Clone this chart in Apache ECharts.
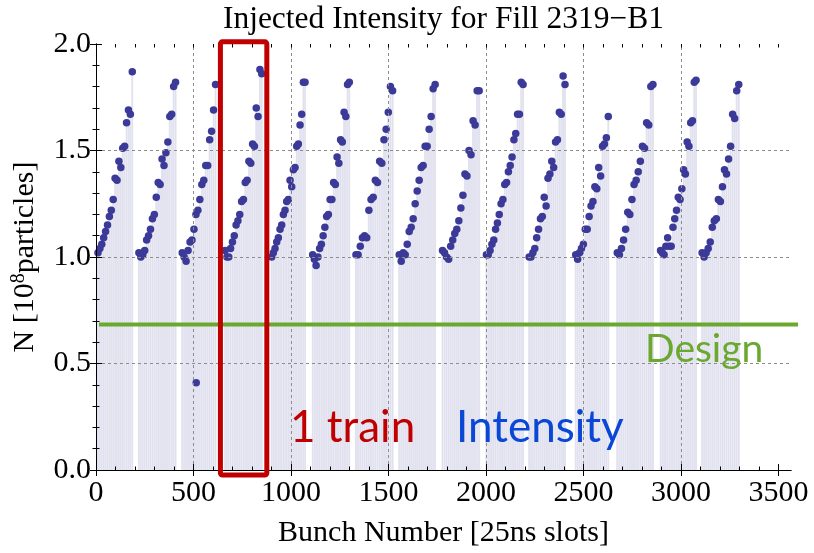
<!DOCTYPE html>
<html><head><meta charset="utf-8">
<script src="https://cdn.jsdelivr.net/npm/echarts@6/dist/echarts.min.js"></script>
<style>html,body{margin:0;padding:0;background:#fff}#c{width:814px;height:553px}</style>
</head><body><div id="c"></div>
<script>
const titleText = 'Injected Intensity for Fill 2319\u2212B1';
const xAxisTitle = 'Bunch Number [25ns slots]';
const xTicks = [0, 500, 1000, 1500, 2000, 2500, 3000, 3500];
const gridX = [500, 1000, 1500, 2000, 2500, 3000];
const gridY = [0.5, 1.0, 1.5];
const xMax = 3564;
const trainStart = [10, 220, 442, 662, 901, 1111, 1333, 1555, 1777, 2002, 2221, 2460, 2673, 2895, 3108];
const trainEnd = [186, 408, 613, 850, 1072, 1299, 1521, 1739, 1965, 2190, 2405, 2627, 2856, 3077, 3296];
const train1 = [1.02,1.04,1.06,1.09,1.12,1.15,1.19,1.22,1.27,1.37,1.36,1.45,1.42,1.51,1.52,1.63,1.69,1.67,1.87];
const train2 = [1.02,1.00,1.01,1.03,1.08,1.10,1.13,1.18,1.20,1.28,1.35,1.34,1.46,1.43,1.49,1.54,1.66,1.67,1.80,1.82];
const train3 = [1.02,1.00,0.98,1.03,1.07,1.08,1.13,1.20,1.22,1.27,1.34,1.36,1.43,1.43,1.55,1.59,1.69,1.81];
const train4 = [1.03,1.00,1.00,1.04,1.07,1.10,1.15,1.17,1.20,1.26,1.27,1.35,1.36,1.45,1.44,1.53,1.52,1.70,1.66,1.88,1.86];
const train5 = [1.00,1.02,1.04,1.07,1.09,1.13,1.15,1.20,1.22,1.26,1.27,1.36,1.33,1.41,1.42,1.52,1.53,1.62,1.67,1.82,1.82];
const train6 = [1.01,0.99,0.96,1.00,1.04,1.06,1.10,1.14,1.19,1.20,1.27,1.27,1.35,1.34,1.47,1.44,1.55,1.54,1.68,1.66,1.81,1.82];
const train7 = [1.01,1.01,1.05,1.09,1.10,1.09,1.22,1.27,1.28,1.36,1.35,1.45,1.44,1.55,1.60,1.68,1.80,1.78];
const train8 = [1.01,0.98,1.02,1.01,1.06,1.12,1.14,1.18,1.25,1.31,1.36,1.42,1.43,1.52,1.52,1.60,1.66,1.79,1.81];
const train9 = [1.03,1.02,1.00,0.99,1.05,1.08,1.11,1.13,1.17,1.23,1.29,1.39,1.38,1.50,1.48,1.64,1.62,1.78,1.78];
const train10 = [1.01,1.01,1.03,1.06,1.08,1.13,1.16,1.20,1.25,1.27,1.34,1.35,1.40,1.43,1.47,1.55,1.58,1.67,1.67,1.82,1.81];
const train11 = [1.00,1.00,1.02,1.04,1.09,1.13,1.18,1.19,1.28,1.24,1.37,1.39,1.45,1.42,1.54,1.55,1.68,1.67,1.85,1.81];
const train12 = [1.01,0.99,1.02,1.04,1.06,1.13,1.13,1.19,1.24,1.26,1.33,1.32,1.42,1.38,1.52,1.53,1.56,1.66];
const train13 = [1.02,1.01,1.04,1.08,1.13,1.21,1.20,1.27,1.34,1.36,1.40,1.45,1.52,1.51,1.63,1.62,1.80,1.81];
const train14 = [1.03,1.02,1.01,1.05,1.09,1.05,1.05,1.14,1.18,1.22,1.28,1.27,1.32,1.41,1.39,1.54,1.52,1.63,1.64,1.82,1.83];
const train15 = [1.02,1.00,1.02,1.04,1.07,1.14,1.17,1.18,1.27,1.26,1.33,1.41,1.39,1.46,1.52,1.67,1.65,1.78,1.81];
const outlierSlot = 514;
const outlierValue = 0.41;
const designValue = 0.683;
const boxSlots = [638, 876];
const boxValues = [2.01, -0.024];

const trains = [train1,train2,train3,train4,train5,train6,train7,train8,train9,train10,train11,train12,train13,train14,train15];
const dots = [];
const stems = [];
trains.forEach((vals, t) => {
  const s = trainStart[t], e = trainEnd[t], n = vals.length;
  const step = (e - s) / (n - 1);
  vals.forEach((v, j) => {
    const x = s + step * j;
    dots.push([x, v]);
    stems.push([x, v, step]);
  });
});
dots.push([outlierSlot, outlierValue]);

const minorX = [];
for (let v = 0; v <= 3500; v += 100) minorX.push(v);

const serif = 'Liberation Serif';
const chart = echarts.init(document.getElementById('c'), null, {renderer: 'canvas'});
const axisLineStyle = {color: '#000', width: 1};
const hiddenLabel = {show: false};
chart.setOption({
  animation: false,
  backgroundColor: '#fff',
  grid: {left: 96, right: 23, top: 44, bottom: 80, containLabel: false},
  xAxis: [
    {type: 'value', position: 'bottom', min: 0, max: xMax, z: 10,
     axisLine: {show: true, lineStyle: axisLineStyle},
     axisTick: {show: true, inside: true, length: 6, customValues: xTicks, lineStyle: axisLineStyle},
     axisLabel: {customValues: xTicks, color: '#000', fontFamily: serif, fontSize: 30, margin: 8, formatter: v => String(v)},
     splitLine: {show: false},
     name: xAxisTitle, nameLocation: 'middle', nameGap: 48,
     nameTextStyle: {color: '#000', fontFamily: serif, fontSize: 30}},
    {type: 'value', position: 'top', min: 0, max: xMax, z: 10,
     axisLine: {show: true, lineStyle: axisLineStyle},
     axisTick: {show: true, inside: true, length: 6, customValues: xTicks, lineStyle: axisLineStyle},
     axisLabel: hiddenLabel, splitLine: {show: false}},
    {type: 'value', position: 'bottom', min: 0, max: xMax, z: 10,
     axisLine: {show: false},
     axisTick: {show: true, inside: true, length: 3.5, customValues: minorX, lineStyle: axisLineStyle},
     axisLabel: hiddenLabel, splitLine: {show: false}},
    {type: 'value', position: 'top', min: 0, max: xMax, z: 10,
     axisLine: {show: false},
     axisTick: {show: true, inside: true, length: 3.5, customValues: minorX, lineStyle: axisLineStyle},
     axisLabel: hiddenLabel, splitLine: {show: false}}
  ],
  yAxis: [
    {type: 'value', position: 'left', min: 0, max: 2, interval: 0.5, z: 10,
     axisLine: {show: true, lineStyle: axisLineStyle},
     axisTick: {show: true, inside: true, length: 6, lineStyle: axisLineStyle},
     minorTick: {show: true, splitNumber: 5, length: 3.5, lineStyle: axisLineStyle},
     axisLabel: {color: '#000', fontFamily: serif, fontSize: 30, margin: 5, formatter: v => v.toFixed(1)},
     splitLine: {show: false},
     name: '{a|N [10}{s|8}{a|particles]}', nameLocation: 'middle', nameGap: 46, nameRotate: 90,
     nameTextStyle: {color: '#000', fontFamily: serif, fontSize: 30,
       rich: {a: {fontFamily: serif, fontSize: 30, color: '#000', lineHeight: 34},
              s: {fontFamily: serif, fontSize: 20, color: '#000', verticalAlign: 'top', lineHeight: 34, padding: [0, 0, 14, 0]}}}},
    {type: 'value', position: 'right', min: 0, max: 2, interval: 0.5, z: 10,
     axisLine: {show: true, lineStyle: axisLineStyle},
     axisTick: {show: true, inside: true, length: 6, lineStyle: axisLineStyle},
     minorTick: {show: true, splitNumber: 5, length: 3.5, lineStyle: axisLineStyle},
     axisLabel: hiddenLabel, splitLine: {show: false}}
  ],
  series: [
    {type: 'custom', name: 'stems', xAxisIndex: 0, yAxisIndex: 0, z: 1, silent: true,
     data: stems, encode: {x: 0, y: 1},
     renderItem: (params, api) => {
       const x = api.value(0), y = api.value(1), w = api.value(2);
       const p0 = api.coord([x - w / 2, y]);
       const p1 = api.coord([x + w / 2, 0]);
       const pc = api.coord([x, y]);
       return {type: 'group', children: [
         {type: 'rect', shape: {x: p0[0], y: p0[1], width: p1[0] - p0[0], height: p1[1] - p0[1]}, style: {fill: '#e6e6f2'}},
         {type: 'line', shape: {x1: pc[0], y1: pc[1], x2: pc[0], y2: p1[1]}, style: {stroke: '#dcdcec', lineWidth: 0.7}}
       ]};
     }},
    {type: 'line', name: 'grid', xAxisIndex: 0, yAxisIndex: 0, z: 2, data: [], silent: true,
     markLine: {silent: true, symbol: ['none', 'none'], label: {show: false}, animation: false,
       lineStyle: {color: '#8c8c8c', width: 1, type: [3, 3]},
       data: gridX.map(v => ({xAxis: v})).concat(gridY.map(v => ({yAxis: v})))}},
    {type: 'scatter', name: 'Intensity', xAxisIndex: 0, yAxisIndex: 0, z: 3, data: dots,
     symbol: 'circle', symbolSize: 7.5, itemStyle: {color: '#3c3a98', opacity: 1}}
  ]
});

function px(x, y) { return chart.convertToPixel({gridIndex: 0}, [x, y]); }
const b0 = px(boxSlots[0], boxValues[0]);
const b1 = px(boxSlots[1], boxValues[1]);
const d0 = px(0, designValue);
const dEnd = px(xMax, designValue);
const t0 = px(0, 2), t1 = px(xMax, 2);
chart.setOption({
  graphic: [
    {type: 'text', z: 100, x: (t0[0] + t1[0]) / 2, y: 4,
     style: {text: titleText, font: '31.5px "Liberation Serif"', fill: '#000', textAlign: 'center', textVerticalAlign: 'top'}},
    {type: 'line', z: 100, shape: {x1: d0[0] + 3, y1: d0[1], x2: dEnd[0] + 7, y2: d0[1]},
     style: {stroke: '#6aa82f', lineWidth: 4}},
    {type: 'rect', z: 101, shape: {x: b0[0], y: b0[1], width: b1[0] - b0[0], height: b1[1] - b0[1], r: 2},
     style: {fill: 'none', stroke: '#c00000', lineWidth: 5}},
    {type: 'text', z: 100, x: 290, y: 428,
     style: {text: '1 train', font: '44px Lato', fill: '#c00000', textVerticalAlign: 'middle'}},
    {type: 'text', z: 100, x: 456, y: 428,
     style: {text: 'Intensity', font: '44px Lato', fill: '#0b47d6', textVerticalAlign: 'middle'}},
    {type: 'text', z: 100, x: 645, y: 349,
     style: {text: 'Design', font: '39px Lato', fill: '#6aa82f', textVerticalAlign: 'middle'}}
  ]
});
</script></body></html>
